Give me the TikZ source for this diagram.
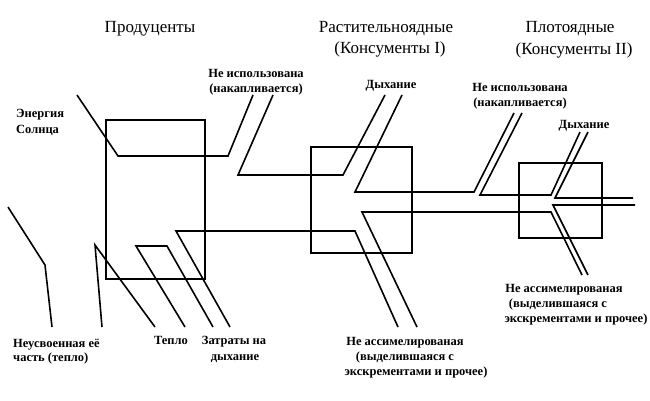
\documentclass[tikz,border=0pt]{standalone}
\usepackage{fontspec}
\setmainfont{Liberation Serif}
\begin{document}
\begin{tikzpicture}[x=1pt,y=-1pt]
\tikzset{
  lbl/.style={font=\bfseries\fontsize{12.5}{15}\selectfont, inner sep=0pt, anchor=base},
  head/.style={font=\fontsize{17}{20}\selectfont, inner sep=0pt, anchor=base},
  box/.style={draw, inner sep=0pt, line width=1.6pt},
  flow/.style={draw, line width=1.6pt, line join=miter}
}
\useasboundingbox (0,0) rectangle (650,400);
% boxes
\node[box, minimum width=99pt, minimum height=159pt] (prod) at (155.5,199.5) {};
\node[box, minimum width=101pt, minimum height=106pt] (herb) at (361.5,200) {};
\node[box, minimum width=83pt, minimum height=75pt] (carn) at (560.5,200.5) {};
% points
\coordinate (a1) at (77,95);  \coordinate (a2) at (118,156); \coordinate (a3) at (228,156); \coordinate (a4) at (253,95);
\coordinate (b1) at (273,95); \coordinate (b2) at (238,175); \coordinate (b3) at (343,175); \coordinate (b4) at (385,95);
\coordinate (c1) at (402,95); \coordinate (c2) at (355,192); \coordinate (c3) at (474,192); \coordinate (c4) at (514,113);
\coordinate (d1) at (522,113); \coordinate (d2) at (480,195); \coordinate (d3) at (551,195); \coordinate (d4) at (580,132);
\coordinate (e1) at (588,132); \coordinate (e2) at (555,198); \coordinate (e3) at (633,198);
\coordinate (f1) at (635,205); \coordinate (f2) at (553,205); \coordinate (f3) at (588,275);
\coordinate (g1) at (582,275); \coordinate (g2) at (551,212); \coordinate (g3) at (362,212); \coordinate (g4) at (417,327);
\coordinate (h1) at (398,327); \coordinate (h2) at (355,231); \coordinate (h3) at (176,231); \coordinate (h4) at (230,327);
\coordinate (i1) at (185,327); \coordinate (i2) at (136,246); \coordinate (i3) at (167,246); \coordinate (i4) at (213,327);
\coordinate (j1) at (155,327); \coordinate (j2) at (95,245);  \coordinate (j3) at (102,327);
\coordinate (k1) at (8,207);   \coordinate (k2) at (45,265);  \coordinate (k3) at (52,327);
% flows
\draw[flow] (a1) -- (a2) -- (a3) -- (a4);
\draw[flow] (b1) -- (b2) -- (b3) -- (b4);
\draw[flow] (c1) -- (c2) -- (c3) -- (c4);
\draw[flow] (d1) -- (d2) -- (d3) -- (d4);
\draw[flow] (e1) -- (e2) -- (e3);
\draw[flow] (f1) -- (f2) -- (f3);
\draw[flow] (g1) -- (g2) -- (g3) -- (g4);
\draw[flow] (h1) -- (h2) -- (h3) -- (h4);
\draw[flow] (i1) -- (i2) -- (i3) -- (i4);
\draw[flow] (j1) -- (j2) -- (j3);
\draw[flow] (k1) -- (k2) -- (k3);
% headings
\node[head] (t1) at (150,32) {Продуценты};
\node[head] (t2) at (386,32) {Растительноядные};
\node[head] (t3) at (390,53) {(Консументы I)};
\node[head] (t4) at (570,32) {Плотоядные};
\node[head] (t5) at (574,54) {(Консументы II)};
% labels
\node[lbl] (l1) at (256,77) {Не использована};
\node[lbl] (l2) at (256,92) {(накапливается)};
\node[lbl, anchor=base west] (l3) at (16,117) {Энергия};
\node[lbl, anchor=base west] (l4) at (16,133) {Солнца};
\node[lbl] (l5) at (391,88) {Дыхание};
\node[lbl] (l6) at (520,91) {Не использована};
\node[lbl] (l7) at (520,106) {(накапливается)};
\node[lbl] (l8) at (584,128) {Дыхание};
\node[lbl, anchor=base west] (l9) at (13,347) {Неусвоенная её};
\node[lbl, anchor=base west] (l10) at (13,361) {часть (тепло)};
\node[lbl] (l11) at (171,344) {Тепло};
\node[lbl] (l12) at (234,344) {Затраты на};
\node[lbl] (l13) at (235,360) {дыхание};
\node[lbl] (l14) at (405,345) {Не ассимелированая};
\node[lbl] (l15) at (405,360) {(выделившаяся с};
\node[lbl] (l16) at (416,375) {экскрементами и прочее)};
\node[lbl] (l17) at (564,292) {Не ассимелированая};
\node[lbl] (l18) at (558,307) {(выделившаяся с};
\node[lbl] (l19) at (576,322) {экскрементами и прочее)};
\end{tikzpicture}
\end{document}
